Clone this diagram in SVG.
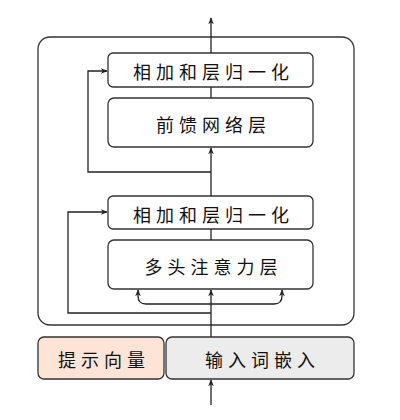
<svg xmlns="http://www.w3.org/2000/svg" width="400" height="420" viewBox="0 0 400 420">
<style>
.box{fill:#fff;stroke:#333;stroke-width:1.3}
.ln{fill:none;stroke:#222;stroke-width:1.3}
.t{font-family:"Noto Sans CJK SC","Noto Sans",sans-serif;font-size:18px;letter-spacing:5px;fill:#111;text-anchor:middle;dominant-baseline:central}
</style>
<defs>
<marker id="ah" viewBox="0 0 10 10" refX="9" refY="5" markerWidth="7" markerHeight="7" markerUnits="userSpaceOnUse" orient="auto">
<path d="M0,1 L10,5 L0,9 L3,5 Z" fill="#222"/>
</marker>
</defs>
<g id="encoder"><rect class="box" x="38" y="37" width="316" height="288" rx="12"/></g>
<g id="addnorm2"><rect class="box" x="108" y="53" width="205" height="34" rx="5"/><text class="t" x="213.5" y="71">相加和层归一化</text></g>
<g id="ffn"><rect class="box" x="108" y="98" width="205" height="49" rx="6"/><text class="t" x="213.5" y="124">前馈网络层</text></g>
<g id="addnorm1"><rect class="box" x="108" y="196" width="205" height="33" rx="5"/><text class="t" x="213.5" y="213.5">相加和层归一化</text></g>
<g id="mha"><rect class="box" x="108" y="240" width="205" height="49" rx="6"/><text class="t" x="213.5" y="266">多头注意力层</text></g>
<g id="prompt"><rect x="38" y="337" width="126" height="42" rx="6" fill="#fde4d6" stroke="#333" stroke-width="1.3"/><text class="t" x="104" y="359">提示向量</text></g>
<g id="embed"><rect x="166" y="337" width="188" height="42" rx="6" fill="#ececec" stroke="#333" stroke-width="1.3"/><text class="t" x="262.5" y="359">输入词嵌入</text></g>
<g id="connectors">
<line class="ln" x1="211" y1="405" x2="211" y2="380" marker-end="url(#ah)"/>
<line class="ln" x1="211" y1="337" x2="211" y2="290" marker-end="url(#ah)"/>
<path class="ln" d="M211,304 H146 Q138,304 138,296 V290" marker-end="url(#ah)"/>
<path class="ln" d="M211,304 H274 Q282,304 282,296 V290" marker-end="url(#ah)"/>
<path class="ln" d="M211,313 H68 V212 H107" marker-end="url(#ah)"/>
<line class="ln" x1="211" y1="240" x2="211" y2="229"/>
<line class="ln" x1="211" y1="196" x2="211" y2="148" marker-end="url(#ah)"/>
<path class="ln" d="M211,172 H88 V71 H107" marker-end="url(#ah)"/>
<line class="ln" x1="211" y1="98" x2="211" y2="87"/>
<line class="ln" x1="211" y1="53" x2="211" y2="18" marker-end="url(#ah)"/>
</g>
</svg>
